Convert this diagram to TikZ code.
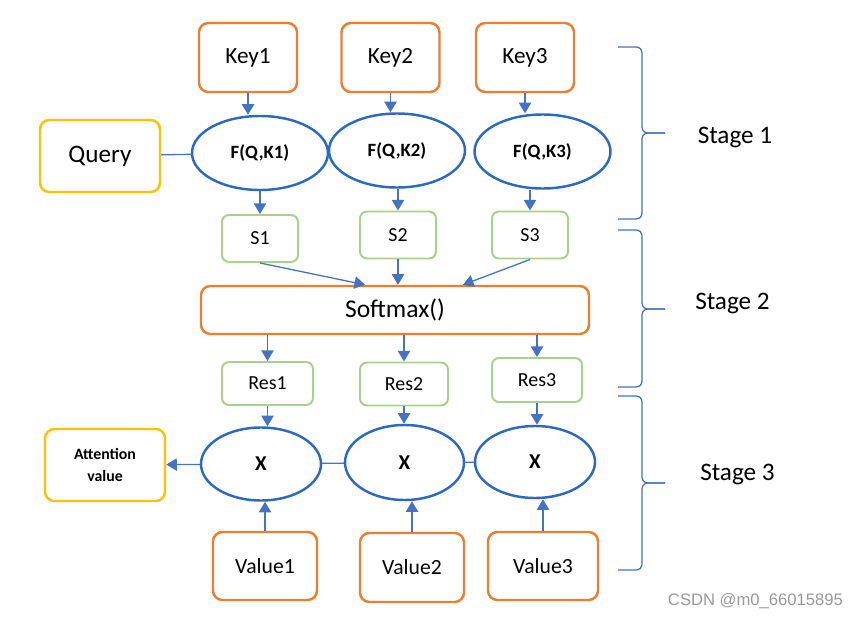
\documentclass[tikz,border=0pt]{standalone}
\usepackage{fontspec}
\setmainfont{Carlito}
\newfontfamily\markfont{Liberation Sans}
\usetikzlibrary{shapes.geometric,arrows.meta,calc}
\definecolor{boxorange}{RGB}{237,125,49}
\definecolor{boxgold}{RGB}{255,192,0}
\definecolor{boxgreen}{RGB}{169,209,142}
\definecolor{ringblue}{RGB}{45,104,196}
\definecolor{arrowblue}{RGB}{68,114,196}
\begin{document}
\begin{tikzpicture}[x=0.03cm, y=-0.03cm,
  inbox/.style={draw=boxorange, line width=2.1pt, rounded corners=8pt,
    minimum width=2.94cm, minimum height=2.07cm, font=\fontsize{19.8}{22}\selectfont},
  outbox/.style={draw=boxgold, line width=2.1pt, rounded corners=8pt,
    minimum width=3.6cm, minimum height=2.16cm},
  scorebox/.style={draw=boxgreen, line width=1.7pt, rounded corners=6pt,
    minimum width=2.28cm, minimum height=1.41cm, font=\fontsize{17}{20}\selectfont},
  ring/.style={ellipse, draw=ringblue, line width=2.1pt, inner sep=0pt,
    minimum width=4.08cm, minimum height=2.22cm, font=\bfseries\fontsize{16}{19}\selectfont},
  arr/.style={-{Triangle[width=10.5pt,length=9pt]}, arrowblue, line width=1.1pt},
  link/.style={arrowblue, line width=1.1pt},
  brc/.style={arrowblue, line width=1.1pt, rounded corners=5pt},
  stagetext/.style={font=\fontsize{21.5}{24}\selectfont}]
\useasboundingbox (0,0) rectangle (858,619);

  % Stage 1: keys, query and scores
  \node[inbox] (key1) at (248,57.5) {Key1};
  \node[inbox] (key2) at (390.5,57.5) {Key2};
  \node[inbox] (key3) at (525,57.5) {Key3};
  \node[outbox, font=\fontsize{21.5}{24}\selectfont] (query) at (100,156) {Query};
  \node[ring] (f1) at (260,153) {F(Q,K1)};
  \node[ring] (f2) at (397,150.5) {F(Q,K2)};
  \node[ring] (f3) at (542.5,151.5) {F(Q,K3)};
  \node[scorebox] (s1) at (260,238.5) {S1};
  \node[scorebox] (s2) at (398,235) {S2};
  \node[scorebox] (s3) at (530,235) {S3};

  % Stage 2: softmax
  \node[inbox, minimum width=11.64cm, minimum height=1.44cm, font=\fontsize{21.8}{24}\selectfont] (softmax) at (395,310) {Softmax()};
  \node[scorebox, minimum width=2.73cm, minimum height=1.29cm] (res1) at (267.5,383.5) {Res1};
  \node[scorebox, minimum width=2.64cm, minimum height=1.29cm] (res2) at (404,384) {Res2};
  \node[scorebox, minimum width=2.7cm, minimum height=1.32cm] (res3) at (537,380) {Res3};

  % Stage 3: weighted sum
  \node[ring, minimum width=3.6cm, minimum height=2.19cm, font=\bfseries\fontsize{18}{21}\selectfont] (x1) at (261,464) {X};
  \node[ring, minimum width=3.57cm, minimum height=2.25cm, font=\bfseries\fontsize{18}{21}\selectfont] (x2) at (404.5,462.5) {X};
  \node[ring, minimum width=3.6cm, minimum height=2.16cm, font=\bfseries\fontsize{18}{21}\selectfont] (x3) at (535,462) {X};
  \node[outbox, align=center, font=\bfseries\fontsize{13.5}{19.5}\selectfont] (att) at (105,465) {Attention\\value};
  \node[inbox, minimum width=3.12cm, minimum height=2.04cm, font=\fontsize{18.5}{21}\selectfont] (val1) at (265,566) {Value1};
  \node[inbox, minimum width=3.12cm, minimum height=2.07cm, font=\fontsize{18.5}{21}\selectfont] (val2) at (412,567.5) {Value2};
  \node[inbox, minimum width=3.3cm, minimum height=2.04cm, font=\fontsize{18.5}{21}\selectfont] (val3) at (543,566) {Value3};

  % Connectors
  \draw[link] (query) -- (f1);
  \foreach \i in {1,2,3} {
    \draw[arr] (key\i.south) -- (key\i.south |- f\i.north);
    \draw[arr] (s\i.north |- f\i.south) -- (s\i.north);
    \draw[arr] (res\i.north |- softmax.south) -- (res\i.north);
    \draw[arr] (res\i.south) -- (res\i.south |- x\i.north);
    \draw[arr] (val\i.north) -- (val\i.north |- x\i.south);
  }
  \draw[arr] (s1.south) -- ($(softmax.north)+(-30,0)$);
  \draw[arr] (s2.south) -- (s2.south |- softmax.north);
  \draw[arr] (s3.south) -- ($(softmax.north)+(68,0)$);
  \draw[link] (x3) -- (x2);
  \draw[link] (x2) -- (x1);
  \draw[arr] (x1) -- (att);

  % Braces
  \foreach \ya/\yb/\yc in {47/133/219, 230/309/387, 396/483/570} {
    \draw[brc] (618,\ya) -- (642,\ya) -- (642,\yb) -- (665,\yb);
    \draw[brc] (665,\yb) -- (642,\yb) -- (642,\yc) -- (618,\yc);
  }
  \node[stagetext] (stage1) at (735,137) {Stage 1};
  \node[stagetext] (stage2) at (732.5,303) {Stage 2};
  \node[stagetext] (stage3) at (737.5,474) {Stage 3};

  \node[text=black!40, font=\markfont\fontsize{14.2}{16}\selectfont] (mark) at (755.5,601) {CSDN @m0\_66015895};
\end{tikzpicture}
\end{document}
